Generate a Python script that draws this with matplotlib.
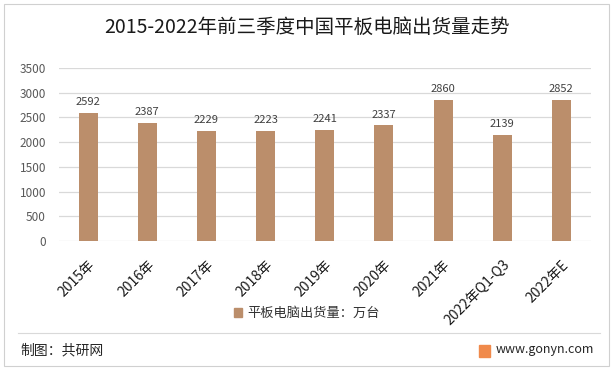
import matplotlib
matplotlib.use("Agg")
import matplotlib.pyplot as plt
from matplotlib.patches import Rectangle
from matplotlib.lines import Line2D

plt.rcParams['font.family'] = ['Noto Sans CJK SC', 'DejaVu Sans']

categories = ["2015年", "2016年", "2017年", "2018年", "2019年", "2020年", "2021年", "2022年Q1-Q3", "2022年E"]
values = [2592, 2387, 2229, 2223, 2241, 2337, 2860, 2139, 2852]
yticks = [0, 500, 1000, 1500, 2000, 2500, 3000, 3500]
title = "2015-2022年前三季度中国平板电脑出货量走势"
legend_label = "平板电脑出货量：万台"
source = "制图：共研网"
site = "www.gonyn.com"

bar_color = "#BB8E6B"

fig = plt.figure(figsize=(6.14, 3.70), dpi=100)
ax = fig.add_axes([0.0953, 0.3486, 0.8672, 0.4676])

x = list(range(len(categories)))
ax.bar(x, values, width=0.32, color=bar_color, zorder=3, label=legend_label)
for xi, v in zip(x, values):
    ax.text(xi, v + 120, str(v), ha='center', va='bottom', fontsize=8, color='#404040')

ax.set_xlim(-0.5, len(categories) - 0.5)
ax.set_ylim(0, 3500)
ax.set_yticks(yticks)
ax.set_yticklabels([str(t) for t in yticks], fontsize=8.5, color='#595959')
ax.set_xticks(x)
ax.set_xticklabels(categories, rotation=45, ha='right', rotation_mode='anchor',
                   fontsize=10, color='#1a1a1a')
ax.tick_params(axis='both', length=0)
ax.tick_params(axis='x', pad=12)
ax.tick_params(axis='y', pad=9)
ax.grid(axis='y', color='#D9D9D9', linewidth=0.9, zorder=0)
for s in ax.spines.values():
    s.set_visible(False)

fig.text(0.5, 0.925, title, ha='center', va='center', fontsize=14, color='#1a1a1a')

leg = fig.legend(handles=[Rectangle((0, 0), 1, 1, color=bar_color)], labels=[legend_label],
                 loc='center', bbox_to_anchor=(0.5, 0.152), frameon=False,
                 fontsize=9.5, handlelength=0.6, handleheight=0.6, handletextpad=0.4)
for t in leg.get_texts():
    t.set_color('#333333')

# footer separator and border
fig.add_artist(Line2D([18/614, 600/614], [1 - 333/370, 1 - 333/370], color='#D9D9D9', linewidth=0.8))
fig.add_artist(Rectangle((4/614, 1 - 366/370), 605/614, 362/370, fill=False,
                         edgecolor='#D0D0D0', linewidth=0.8))

fig.text(20/614, 1 - 350/370, source, ha='left', va='center', fontsize=10, color='#262626')
fig.add_artist(Rectangle((479/614, 1 - 357/370), 11/614, 12/370, color='#F08A4B'))
fig.text(496/614, 1 - 350/370, site, ha='left', va='center', fontsize=9, color='#262626')

fig.savefig("out.png", dpi=100, facecolor='white')
